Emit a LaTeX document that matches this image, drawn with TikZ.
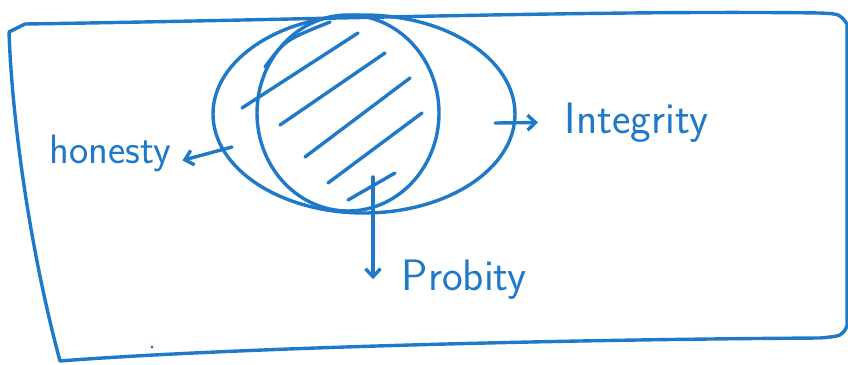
\documentclass[tikz,border=0pt]{standalone}
\usepackage{tikz}
\usetikzlibrary{arrows.meta,positioning,calc}
\definecolor{inkB}{HTML}{1F78C8}

\begin{document}
\begin{tikzpicture}[x=1pt,y=-1pt,line width=3.4pt,line cap=round,line join=round,draw=inkB,
  every node/.style={inner sep=0pt,text=inkB,font=\sffamily},
  pen/.style={-{Straight Barb[length=8pt,width=15pt]}},
  bigtxt/.style={font=\sffamily\fontsize{44}{44}\selectfont}]
  \useasboundingbox (0,0) rectangle (848,364);
  % frame
  \draw (9,32) -- (25,24) .. controls (300,20) and (600,10) .. (820,13)
    .. controls (840,14) .. (847,24) -- (847,326) .. controls (842,336) .. (820,338)
    .. controls (500,340) and (200,350) .. (60,361)
    .. controls (30,250) and (12,120) .. (9,32);
  \fill[inkB] (152,347) circle (1.6pt);
  % integrity and probity
  \draw (364,114) ellipse [x radius=151pt, y radius=99pt];
  \draw (348,113) ellipse [x radius=91pt, y radius=98pt];
  \draw (265,67) .. controls (285,40) .. (330,22);
  \foreach \a/\b/\c/\d in {242/108/358/33, 280/125/385/53,
                           305/157/410/78, 328/183/422/113, 348/200/395/173}{
    \draw (\a,\b) -- (\c,\d);
  }
  % labels
  \coordinate (honT) at (232,147);
  \coordinate (intT) at (495,123);
  \coordinate (probT) at (373,177);
  \node[anchor=base west,font=\sffamily\fontsize{41}{41}\selectfont] (honesty) at (48,163) {honesty};
  \node[anchor=base west,bigtxt] (integrity) at (563,133) {Integrity};
  \node[anchor=base west,bigtxt] (probity) at (400,290) {Probity};
  \draw[pen,shorten >=10pt] (honT) -- (honesty.base east);
  \draw[pen,shorten >=25pt] (intT) -- (integrity.west);
  \draw[pen] (probT) -- (probT |- probity.west);
\end{tikzpicture}
\end{document}
